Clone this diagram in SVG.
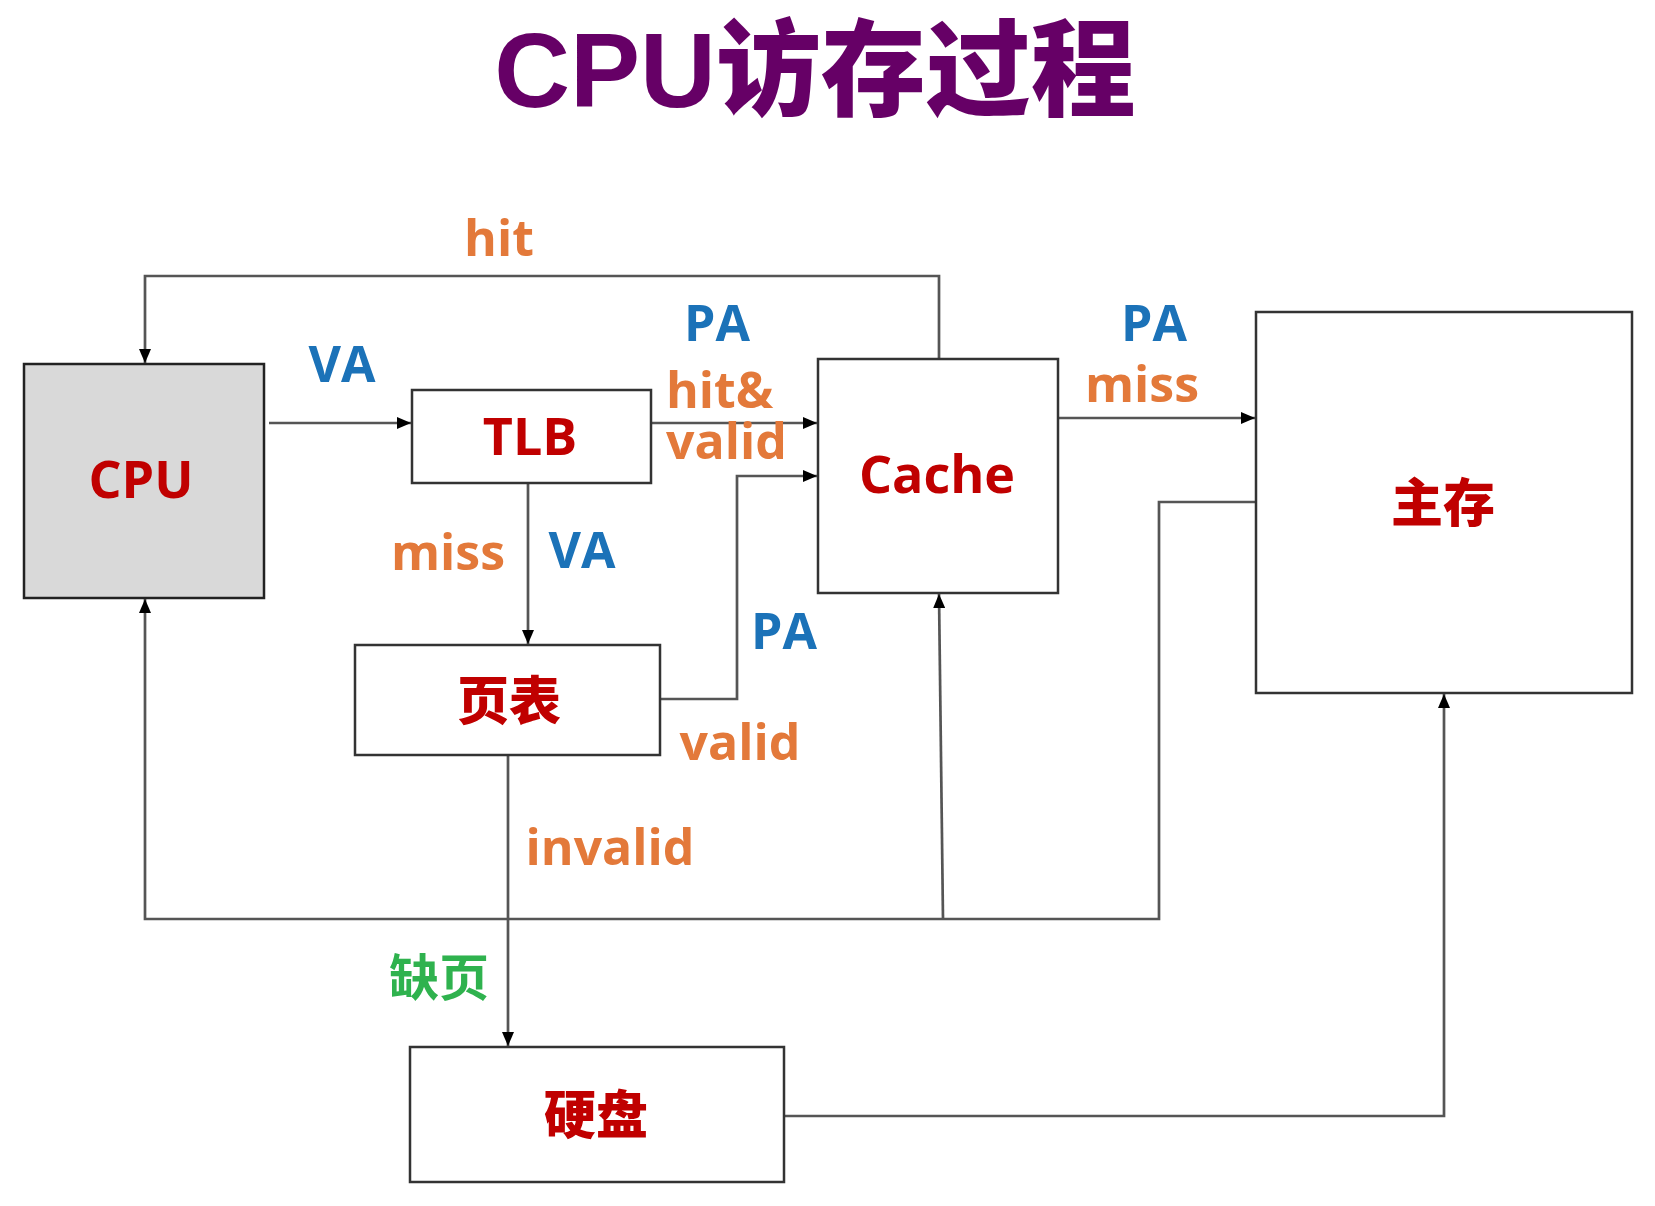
<svg xmlns="http://www.w3.org/2000/svg" width="1655" height="1206" viewBox="0 0 1655 1206">
<style>
.box{fill:#fff;stroke:#333;stroke-width:2.5}
.cpu{fill:#d9d9d9;stroke:#222;stroke-width:2.5}
.node{font-family:"Open Sans","Noto Sans CJK SC",sans-serif;font-weight:700;font-size:52px;fill:#c00000;text-anchor:middle}
.cjk{font-family:"Noto Sans CJK SC",sans-serif;font-weight:900;font-size:52px;fill:#c00000;text-anchor:middle}
.lbl{font-family:"Open Sans","Noto Sans CJK SC",sans-serif;font-weight:700;font-size:50px;text-anchor:middle}
.or{fill:#e3793a}
.bl{fill:#1b72b8}
.gr{font-family:"Noto Sans CJK SC",sans-serif;font-weight:700;font-size:50px;fill:#2fb24e;text-anchor:middle}
.conn path{fill:none;stroke:#555;stroke-width:2.7}
</style>
<defs>
<marker id="arr" viewBox="0 0 14 12" refX="14" refY="6" markerWidth="14" markerHeight="12" markerUnits="userSpaceOnUse" orient="auto">
<path d="M0,0 L14,6 L0,12 z" fill="#000"/>
</marker>
</defs>
<rect width="1655" height="1206" fill="#fff"/>
<text x="815" y="107" font-family="Liberation Sans,'Noto Sans CJK SC',sans-serif" font-weight="900" font-size="105" fill="#660066" text-anchor="middle">CPU访存过程</text>

<g id="connectors" class="conn">
<path d="M269,423 H411" marker-end="url(#arr)"/>
<path d="M651,423 H817" marker-end="url(#arr)"/>
<path d="M660,699 H737 V476 H817" marker-end="url(#arr)"/>
<path d="M528,483 V644" marker-end="url(#arr)"/>
<path d="M1058,418 H1255" marker-end="url(#arr)"/>
<path d="M939,359 V276 H145 V363" marker-end="url(#arr)"/>
<path d="M1256,502 H1159 V919 H145 V599" marker-end="url(#arr)"/>
<path d="M943,919 L939,594" marker-end="url(#arr)"/>
<path d="M508,755 V1046" marker-end="url(#arr)"/>
<path d="M784,1116 H1444 V694" marker-end="url(#arr)"/>
</g>

<g id="cpu"><rect class="cpu" x="24" y="364" width="240" height="234"/><text class="node" x="141" y="498">CPU</text></g>
<g id="tlb"><rect class="box" x="412" y="390" width="239" height="93"/><text class="node" x="530" y="455">TLB</text></g>
<g id="cache"><rect class="box" x="818" y="359" width="240" height="234"/><text class="node" x="937" y="493">Cache</text></g>
<g id="mainmem"><rect class="box" x="1256" y="312" width="376" height="381"/><text class="cjk" x="1443" y="522">主存</text></g>
<g id="pagetable"><rect class="box" x="355" y="645" width="305" height="110"/><text class="cjk" x="509" y="720">页表</text></g>
<g id="disk"><rect class="box" x="410" y="1047" width="374" height="135"/><text class="cjk" x="596" y="1134">硬盘</text></g>

<g id="labels">
<text class="lbl or" x="499" y="256">hit</text>
<text class="lbl bl" x="342" y="382">VA</text>
<text class="lbl bl" x="717" y="341">PA</text>
<text class="lbl or" x="666" y="408" style="text-anchor:start">hit&amp;</text>
<text class="lbl or" x="666" y="459" style="text-anchor:start">valid</text>
<text class="lbl bl" x="1154" y="341">PA</text>
<text class="lbl or" x="1142" y="402">miss</text>
<text class="lbl or" x="448" y="570">miss</text>
<text class="lbl bl" x="582" y="568">VA</text>
<text class="lbl bl" x="784" y="649">PA</text>
<text class="lbl or" x="740" y="760">valid</text>
<text class="lbl or" x="610" y="865">invalid</text>
<text class="gr" x="439" y="996">缺页</text>
</g>
</svg>
